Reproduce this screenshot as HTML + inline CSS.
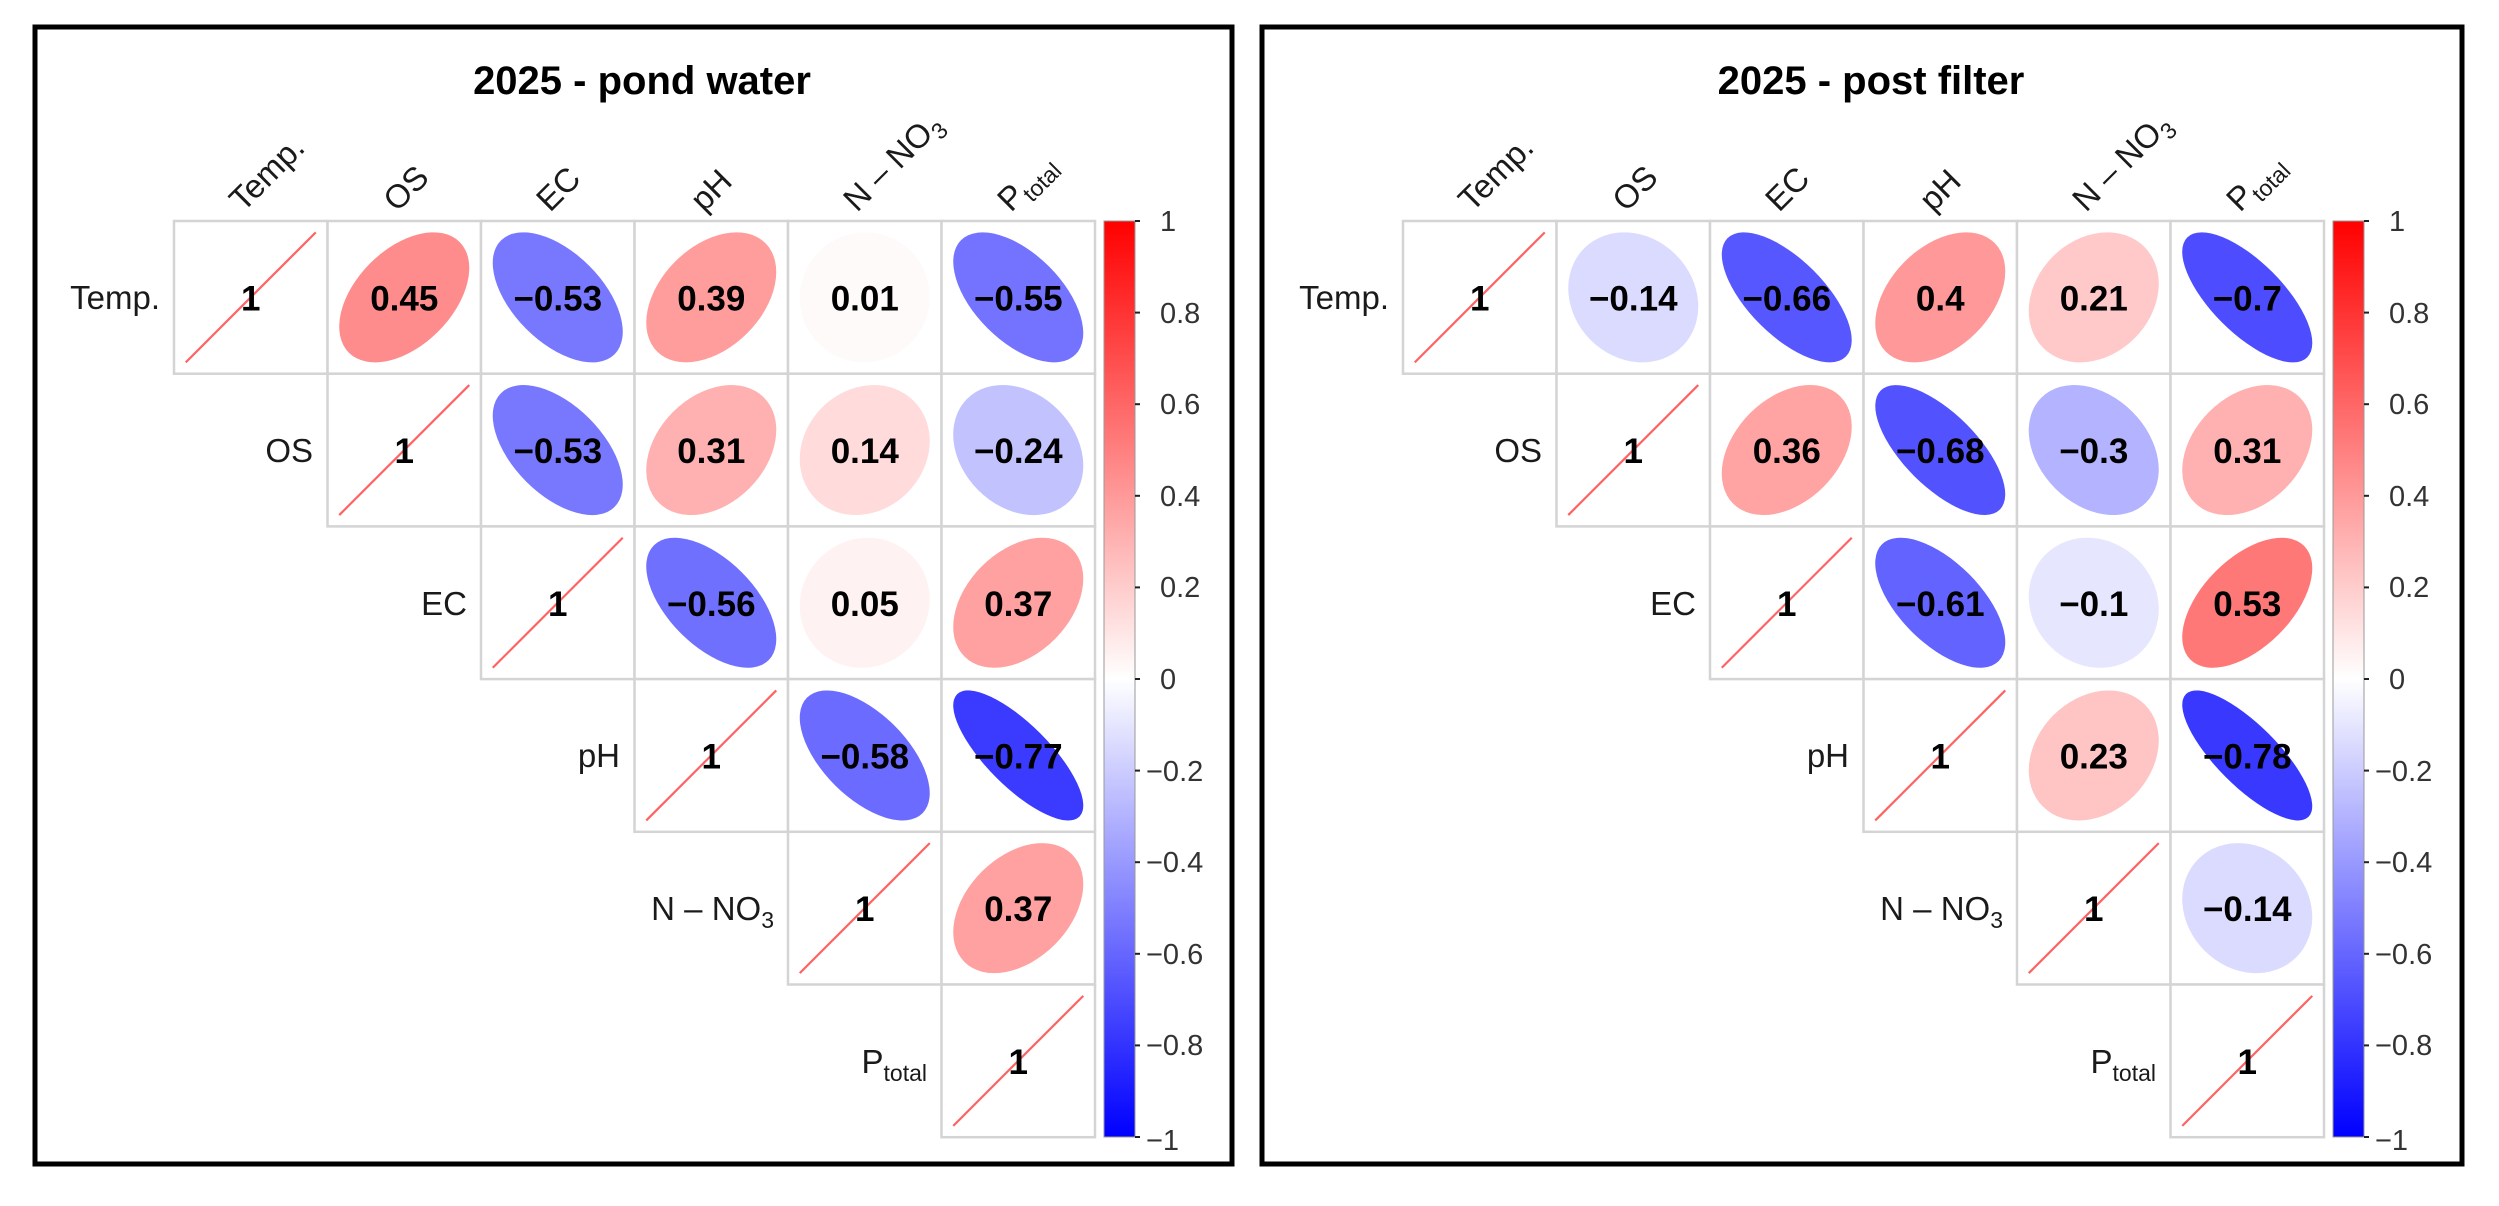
<!DOCTYPE html>
<html><head><meta charset="utf-8"><style>
html,body{margin:0;padding:0;background:#fff}
svg{display:block}
text{font-family:"Liberation Sans",Arial,sans-serif}
.v{font-weight:bold;font-size:35px;text-anchor:middle;fill:#000}
.rl{font-size:33px;text-anchor:end;fill:#1a1a1a}
.cl{font-size:33px;fill:#1a1a1a}
.tk{font-size:29px;fill:#333}
.ti{font-weight:bold;font-size:40px;text-anchor:middle;fill:#000}
.cell{fill:#fff;stroke:#d4d4d4;stroke-width:2.5}
.dg{stroke:#ff6262;stroke-width:2.2}
</style></head><body>
<svg width="2499" height="1206" viewBox="0 0 2499 1206" xmlns="http://www.w3.org/2000/svg">
<defs>
<linearGradient id="cb" x1="0" y1="0" x2="0" y2="1">
<stop offset="0" stop-color="#ff0000"/><stop offset="0.5" stop-color="#ffffff"/><stop offset="1" stop-color="#0000ff"/>
</linearGradient>
<g id="diag"><line class="dg" x1="-65" y1="65" x2="65" y2="-65"/><text class="v" x="0" y="13">1</text></g>
<g id="grid">
<rect class="cell" x="174" y="221" width="153.5" height="152.7"/><rect class="cell" x="327.5" y="221" width="153.5" height="152.7"/><rect class="cell" x="481" y="221" width="153.5" height="152.7"/><rect class="cell" x="634.5" y="221" width="153.5" height="152.7"/><rect class="cell" x="788" y="221" width="153.5" height="152.7"/><rect class="cell" x="941.5" y="221" width="153.5" height="152.7"/>
<rect class="cell" x="327.5" y="373.7" width="153.5" height="152.7"/><rect class="cell" x="481" y="373.7" width="153.5" height="152.7"/><rect class="cell" x="634.5" y="373.7" width="153.5" height="152.7"/><rect class="cell" x="788" y="373.7" width="153.5" height="152.7"/><rect class="cell" x="941.5" y="373.7" width="153.5" height="152.7"/>
<rect class="cell" x="481" y="526.4" width="153.5" height="152.7"/><rect class="cell" x="634.5" y="526.4" width="153.5" height="152.7"/><rect class="cell" x="788" y="526.4" width="153.5" height="152.7"/><rect class="cell" x="941.5" y="526.4" width="153.5" height="152.7"/>
<rect class="cell" x="634.5" y="679.1" width="153.5" height="152.7"/><rect class="cell" x="788" y="679.1" width="153.5" height="152.7"/><rect class="cell" x="941.5" y="679.1" width="153.5" height="152.7"/>
<rect class="cell" x="788" y="831.8" width="153.5" height="152.7"/><rect class="cell" x="941.5" y="831.8" width="153.5" height="152.7"/>
<rect class="cell" x="941.5" y="984.5" width="153.5" height="152.7"/>
<use href="#diag" x="250.75" y="297.35"/><use href="#diag" x="404.25" y="450.05"/><use href="#diag" x="557.75" y="602.75"/><use href="#diag" x="711.25" y="755.45"/><use href="#diag" x="864.75" y="908.15"/><use href="#diag" x="1018.25" y="1060.85"/>
<text class="rl" x="160" y="309">Temp.</text>
<text class="rl" x="313" y="462">OS</text>
<text class="rl" x="467" y="615">EC</text>
<text class="rl" x="620" y="767">pH</text>
<text class="rl" x="774" y="920">N – NO<tspan font-size="23" dy="8">3</tspan></text>
<text class="rl" x="927" y="1073">P<tspan font-size="23" dy="8">total</tspan></text>
<text class="cl" transform="translate(243,213) rotate(-45)">Temp.</text>
<text class="cl" transform="translate(397,213) rotate(-45)">OS</text>
<text class="cl" transform="translate(550,213) rotate(-45)">EC</text>
<text class="cl" transform="translate(704,213) rotate(-45)">pH</text>
<text class="cl" transform="translate(857,213) rotate(-45)">N – NO<tspan font-size="23" dy="8">3</tspan></text>
<text class="cl" transform="translate(1011,213) rotate(-45)">P<tspan font-size="23" dy="8">total</tspan></text>
<rect x="1104" y="221" width="31" height="916" fill="url(#cb)" stroke="#999" stroke-width="1"/>
<g stroke="#222" stroke-width="2">
<line x1="1135" y1="221" x2="1140" y2="221"/><line x1="1135" y1="312.6" x2="1140" y2="312.6"/><line x1="1135" y1="404.2" x2="1140" y2="404.2"/><line x1="1135" y1="495.8" x2="1140" y2="495.8"/><line x1="1135" y1="587.4" x2="1140" y2="587.4"/><line x1="1135" y1="679" x2="1140" y2="679"/><line x1="1135" y1="770.6" x2="1140" y2="770.6"/><line x1="1135" y1="862.2" x2="1140" y2="862.2"/><line x1="1135" y1="953.8" x2="1140" y2="953.8"/><line x1="1135" y1="1045.4" x2="1140" y2="1045.4"/><line x1="1135" y1="1137" x2="1140" y2="1137"/>
</g>
<text class="tk" x="1160" y="231">1</text>
<text class="tk" x="1160" y="323">0.8</text>
<text class="tk" x="1160" y="414">0.6</text>
<text class="tk" x="1160" y="506">0.4</text>
<text class="tk" x="1160" y="597">0.2</text>
<text class="tk" x="1160" y="689">0</text>
<text class="tk" x="1146" y="781">−0.2</text>
<text class="tk" x="1146" y="872">−0.4</text>
<text class="tk" x="1146" y="964">−0.6</text>
<text class="tk" x="1146" y="1055">−0.8</text>
<text class="tk" x="1146" y="1150">−1</text>
</g>
</defs>

<!-- LEFT PANEL -->
<rect x="35" y="27" width="1197" height="1137" fill="none" stroke="#000" stroke-width="5"/>
<text class="ti" x="642" y="94">2025 - pond water</text>
<use href="#grid"/>
<g transform="translate(404.25,297.35)"><ellipse rx="78.3" ry="48.2" transform="rotate(-45)" fill="#FF8C8C"/><text class="v" y="13">0.45</text></g>
<g transform="translate(557.75,297.35)"><ellipse rx="44.6" ry="80.4" transform="rotate(-45)" fill="#7878FF"/><text class="v" y="13">−0.53</text></g>
<g transform="translate(711.25,297.35)"><ellipse rx="76.6" ry="50.8" transform="rotate(-45)" fill="#FF9C9C"/><text class="v" y="13">0.39</text></g>
<g transform="translate(864.75,297.35)"><ellipse rx="65.3" ry="64.7" transform="rotate(-45)" fill="#FFFAFA"/><text class="v" y="13">0.01</text></g>
<g transform="translate(1018.25,297.35)"><ellipse rx="43.6" ry="80.9" transform="rotate(-45)" fill="#7373FF"/><text class="v" y="13">−0.55</text></g>
<g transform="translate(557.75,450.05)"><ellipse rx="44.6" ry="80.4" transform="rotate(-45)" fill="#7878FF"/><text class="v" y="13">−0.53</text></g>
<g transform="translate(711.25,450.05)"><ellipse rx="74.4" ry="54.0" transform="rotate(-45)" fill="#FFB0B0"/><text class="v" y="13">0.31</text></g>
<g transform="translate(864.75,450.05)"><ellipse rx="69.4" ry="60.3" transform="rotate(-45)" fill="#FFDBDB"/><text class="v" y="13">0.14</text></g>
<g transform="translate(1018.25,450.05)"><ellipse rx="56.7" ry="72.4" transform="rotate(-45)" fill="#C2C2FF"/><text class="v" y="13">−0.24</text></g>
<g transform="translate(711.25,602.75)"><ellipse rx="43.1" ry="81.2" transform="rotate(-45)" fill="#7070FF"/><text class="v" y="13">−0.56</text></g>
<g transform="translate(864.75,602.75)"><ellipse rx="66.6" ry="63.4" transform="rotate(-45)" fill="#FFF2F2"/><text class="v" y="13">0.05</text></g>
<g transform="translate(1018.25,602.75)"><ellipse rx="76.1" ry="51.6" transform="rotate(-45)" fill="#FFA1A1"/><text class="v" y="13">0.37</text></g>
<g transform="translate(864.75,755.45)"><ellipse rx="42.1" ry="81.7" transform="rotate(-45)" fill="#6B6BFF"/><text class="v" y="13">−0.58</text></g>
<g transform="translate(1018.25,755.45)"><ellipse rx="31.2" ry="86.5" transform="rotate(-45)" fill="#3B3BFF"/><text class="v" y="13">−0.77</text></g>
<g transform="translate(1018.25,908.15)"><ellipse rx="76.1" ry="51.6" transform="rotate(-45)" fill="#FFA1A1"/><text class="v" y="13">0.37</text></g>

<!-- RIGHT PANEL -->
<rect x="1262" y="27" width="1200" height="1137" fill="none" stroke="#000" stroke-width="5"/>
<g transform="translate(1229,0)">
<text class="ti" x="642" y="94">2025 - post filter</text>
<use href="#grid"/>
<g transform="translate(404.25,297.35)"><ellipse rx="60.3" ry="69.4" transform="rotate(-45)" fill="#DBDBFF"/><text class="v" y="13">−0.14</text></g>
<g transform="translate(557.75,297.35)"><ellipse rx="37.9" ry="83.7" transform="rotate(-45)" fill="#5757FF"/><text class="v" y="13">−0.66</text></g>
<g transform="translate(711.25,297.35)"><ellipse rx="76.9" ry="50.4" transform="rotate(-45)" fill="#FF9999"/><text class="v" y="13">0.4</text></g>
<g transform="translate(864.75,297.35)"><ellipse rx="71.5" ry="57.8" transform="rotate(-45)" fill="#FFC9C9"/><text class="v" y="13">0.21</text></g>
<g transform="translate(1018.25,297.35)"><ellipse rx="35.6" ry="84.8" transform="rotate(-45)" fill="#4D4DFF"/><text class="v" y="13">−0.7</text></g>
<g transform="translate(557.75,450.05)"><ellipse rx="75.8" ry="52" transform="rotate(-45)" fill="#FFA3A3"/><text class="v" y="13">0.36</text></g>
<g transform="translate(711.25,450.05)"><ellipse rx="36.8" ry="84.2" transform="rotate(-45)" fill="#5252FF"/><text class="v" y="13">−0.68</text></g>
<g transform="translate(864.75,450.05)"><ellipse rx="54.4" ry="74.1" transform="rotate(-45)" fill="#B3B3FF"/><text class="v" y="13">−0.3</text></g>
<g transform="translate(1018.25,450.05)"><ellipse rx="74.4" ry="54.0" transform="rotate(-45)" fill="#FFB0B0"/><text class="v" y="13">0.31</text></g>
<g transform="translate(711.25,602.75)"><ellipse rx="40.6" ry="82.5" transform="rotate(-45)" fill="#6363FF"/><text class="v" y="13">−0.61</text></g>
<g transform="translate(864.75,602.75)"><ellipse rx="61.7" ry="68.2" transform="rotate(-45)" fill="#E6E6FF"/><text class="v" y="13">−0.1</text></g>
<g transform="translate(1018.25,602.75)"><ellipse rx="80.4" ry="44.6" transform="rotate(-45)" fill="#FF7878"/><text class="v" y="13">0.53</text></g>
<g transform="translate(864.75,755.45)"><ellipse rx="72.1" ry="57.0" transform="rotate(-45)" fill="#FFC4C4"/><text class="v" y="13">0.23</text></g>
<g transform="translate(1018.25,755.45)"><ellipse rx="30.5" ry="86.7" transform="rotate(-45)" fill="#3838FF"/><text class="v" y="13">−0.78</text></g>
<g transform="translate(1018.25,908.15)"><ellipse rx="60.3" ry="69.4" transform="rotate(-45)" fill="#DBDBFF"/><text class="v" y="13">−0.14</text></g>
</g>
</svg>
</body></html>
